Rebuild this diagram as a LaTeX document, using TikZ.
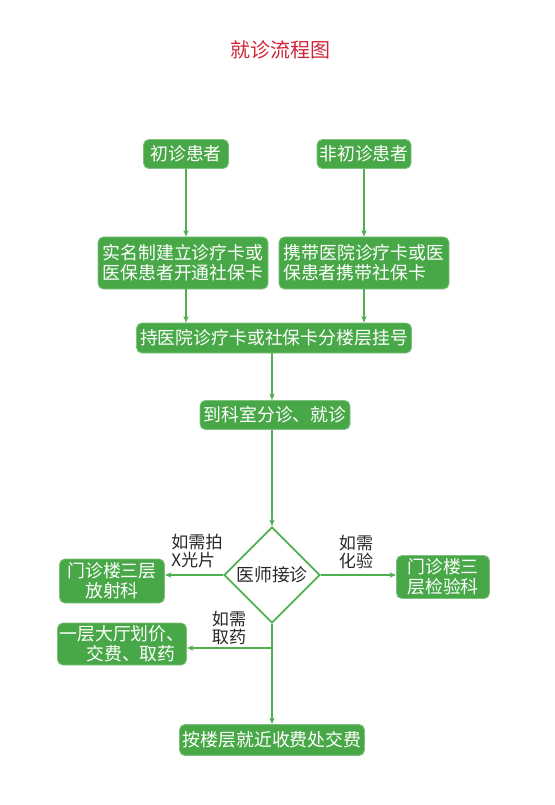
\documentclass[tikz,border=0pt]{standalone}
\usepackage{fontspec}
\setmainfont{Noto Sans CJK SC}
\usetikzlibrary{shapes.geometric,arrows.meta}
\definecolor{gbox}{RGB}{72,168,72}
\definecolor{gline}{RGB}{80,176,80}
\definecolor{ttl}{RGB}{208,36,56}
\definecolor{txt}{RGB}{40,40,40}
\begin{document}
\begin{tikzpicture}[x=0.75pt,y=-0.75pt,
  box/.style={fill=gbox,draw=gbox!70!white,line width=0.6pt,rounded corners=4pt,text=white,
    font=\fontsize{13.4}{14.8}\selectfont,inner sep=0pt,align=center},
  lab/.style={text=txt,font=\fontsize{12.8}{13.6}\selectfont,align=left,inner sep=0pt},
  conn/.style={draw=gline,line width=1.5pt,-{Stealth[length=5pt,width=4pt]}},
  plain/.style={draw=gline,line width=1.5pt}]
\useasboundingbox (0,0) rectangle (555,805);
\node[text=ttl,font=\fontsize{15}{16}\selectfont] (title) at (280,50) {就诊流程图};
\node[box,minimum width=85*0.75pt,minimum height=29*0.75pt] (a) at (186,154) {初诊患者};
\node[box,minimum width=94*0.75pt,minimum height=29*0.75pt] (b) at (364,154) {非初诊患者};
\node[box,minimum width=170*0.75pt,minimum height=52*0.75pt] (c) at (183,263) {实名制建立诊疗卡或\\医保患者开通社保卡};
\node[box,minimum width=170*0.75pt,minimum height=52*0.75pt] (d) at (364,263) {携带医院诊疗卡或医\\保患者携带社保卡\hspace*{1.05em}};
\node[box,minimum width=275*0.75pt,minimum height=30*0.75pt] (e) at (274,338) {持医院诊疗卡或社保卡分楼层挂号};
\node[box,minimum width=150*0.75pt,minimum height=29*0.75pt] (f) at (275,415) {到科室分诊、就诊};
\node[diamond,draw=gline,line width=1.3pt,minimum width=96*0.75pt,minimum height=96*0.75pt,inner sep=0pt,
  text=txt,font=\fontsize{13.4}{14}\selectfont] (g) at (272,575) {医师接诊};
\node[box,minimum width=105*0.75pt,minimum height=44*0.75pt] (h) at (112,581) {门诊楼三层\\放射科};
\node[box,minimum width=93*0.75pt,minimum height=43*0.75pt] (i) at (443,577) {门诊楼三\\层检验科};
\node[box,minimum width=129*0.75pt,minimum height=42*0.75pt] (j) at (122,644) {一层大厅划价、\\\hspace*{1em}交费、取药};
\node[box,minimum width=185*0.75pt,minimum height=31*0.75pt] (k) at (272,740) {按楼层就近收费处交费};
\node[lab] (l1) at (197,551) {如需拍\\X光片};
\node[lab] (l2) at (356,552) {如需\\化验};
\node[lab] (l3) at (229,628) {如需\\取药};
\coordinate (br) at (272,648);
\draw[conn] (a.south) -- (a.south |- c.north);
\draw[conn] (b.south) -- (b.south |- d.north);
\draw[conn] (a.south |- c.south) -- (a.south |- e.north);
\draw[conn] (b.south |- d.south) -- (b.south |- e.north);
\draw[conn] (g.north |- e.south) -- (g.north |- f.north);
\draw[conn] (g.north |- f.south) -- (g.north);
\draw[conn] (g.west) -- (h.east |- g.west);
\draw[conn] (g.east) -- (i.west |- g.east);
\draw[plain] (g.south) -- (br);
\draw[conn] (br) -- (j.east |- br);
\draw[conn] (br) -- (k.north);
\end{tikzpicture}
\end{document}
